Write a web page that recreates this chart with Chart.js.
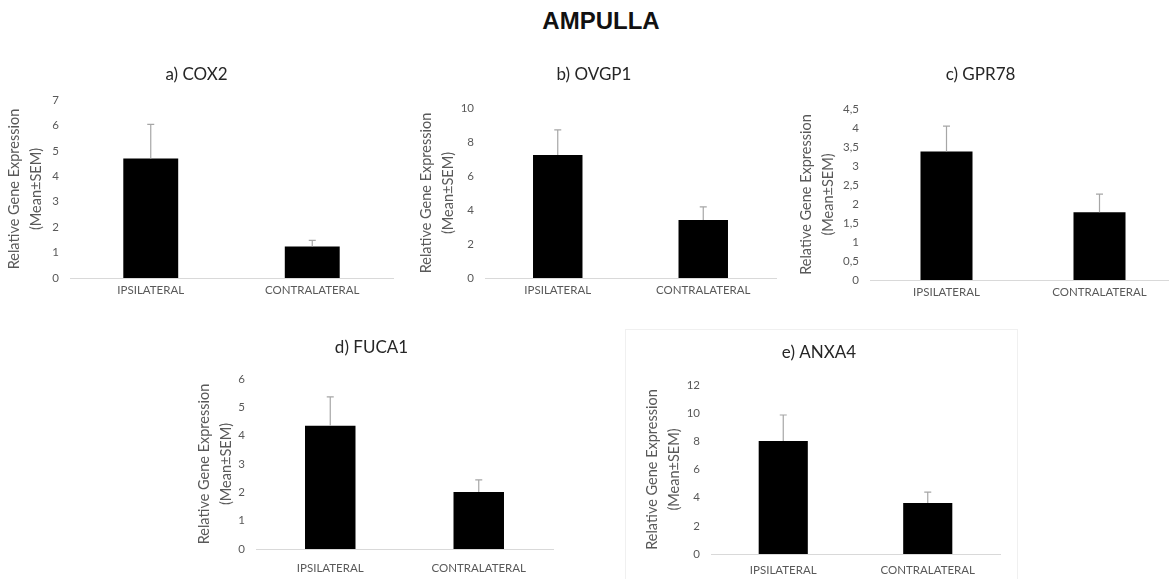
<!DOCTYPE html>
<html>
<head>
<meta charset="utf-8">
<script src="https://cdn.jsdelivr.net/npm/chart.js@4"></script>
<style>
  html, body { margin: 0; padding: 0; background: #fff; overflow: hidden; }
  body { width: 1169px; height: 579px; position: relative; }
  #mainTitle { position: absolute; left: 0; width: 1202px; top: 7px; text-align: center;
    font: bold 24px "Liberation Sans", Arial, sans-serif; color: #111; }
  canvas { position: absolute; }
  #boxE { position: absolute; left: 625px; top: 329px; width: 391px; height: 260px; border: 1px solid #f0f0f0; }
</style>
</head>
<body>
<div id="mainTitle">AMPULLA</div>
<div id="boxE"></div>
<canvas id="cA"></canvas>
<canvas id="cB"></canvas>
<canvas id="cC"></canvas>
<canvas id="cD"></canvas>
<canvas id="cE"></canvas>
<script>
// data
var categories = ['IPSILATERAL', 'CONTRALATERAL'];
var panelTitles = ['a) COX2', 'b) OVGP1', 'c) GPR78', 'd) FUCA1', 'e) ANXA4'];
var yAxisTitle = ['Relative Gene Expression', '(Mean±SEM)'];

var cox2Mean = [4.70, 1.24];
var cox2Sem = [1.34, 0.24];
var ovgp1Mean = [7.24, 3.41];
var ovgp1Sem = [1.47, 0.77];
var gpr78Mean = [3.38, 1.78];
var gpr78Sem = [0.67, 0.48];
var fuca1Mean = [4.35, 2.01];
var fuca1Sem = [1.02, 0.43];
var anxa4Mean = [8.02, 3.62];
var anxa4Sem = [1.85, 0.78];

var yMax = [7, 10, 4.5, 6, 12];
var yStep = [1, 2, 0.5, 1, 2];

// where each panel sits on the page
var panels = [
  { id: 'cA', left: 0,   top: 55,  w: 395, h: 253, yw: 70, ytp: 3,  tpt: 10, tpb: 15, xpad: 5,  mean: cox2Mean,  sem: cox2Sem },
  { id: 'cB', left: 412, top: 55,  w: 366, h: 253, yw: 73, ytp: 3,  tpt: 10, tpb: 23, xpad: 5,  mean: ovgp1Mean, sem: ovgp1Sem },
  { id: 'cC', left: 785, top: 55,  w: 393, h: 255, yw: 85, ytp: 10, tpt: 10, tpb: 24, xpad: 5,  mean: gpr78Mean, sem: gpr78Sem },
  { id: 'cD', left: 190, top: 325, w: 365, h: 254, yw: 66, ytp: 3,  tpt: 13, tpb: 21, xpad: 12, mean: fuca1Mean, sem: fuca1Sem },
  { id: 'cE', left: 638, top: 325, w: 364, h: 259, yw: 73, ytp: 3,  tpt: 18, tpb: 22, xpad: 9,  mean: anxa4Mean, sem: anxa4Sem }
];

var errorBars = {
  id: 'errorBars',
  afterDatasetsDraw: function(chart) {
    var ctx = chart.ctx;
    var y = chart.scales.y;
    var sem = chart.options.plugins.errorBars.sem;
    var ds = chart.data.datasets[0].data;
    chart.getDatasetMeta(0).data.forEach(function(bar, i) {
      var y0 = y.getPixelForValue(ds[i]);
      var y1 = y.getPixelForValue(ds[i] + sem[i]);
      ctx.save();
      ctx.strokeStyle = '#a6a6a6';
      ctx.lineWidth = 1.2;
      ctx.beginPath();
      ctx.moveTo(bar.x, y0);
      ctx.lineTo(bar.x, y1);
      ctx.moveTo(bar.x - 3.5, y1);
      ctx.lineTo(bar.x + 3.5, y1);
      ctx.stroke();
      ctx.restore();
    });
  }
};

panels.forEach(function(p, k) {
  var cv = document.getElementById(p.id);
  cv.width = p.w; cv.height = p.h;
  cv.style.left = p.left + 'px'; cv.style.top = p.top + 'px';
  new Chart(cv.getContext('2d'), {
    type: 'bar',
    data: {
      labels: categories,
      datasets: [{
        data: p.mean,
        backgroundColor: '#000',
        borderWidth: 0,
        barPercentage: 0.34,
        categoryPercentage: 1
      }]
    },
    plugins: [errorBars],
    options: {
      responsive: false,
      animation: false,
      layout: { padding: { left: 0, right: 2, top: 0, bottom: 0 } },
      plugins: {
        legend: { display: false },
        tooltip: { enabled: false },
        title: {
          display: true,
          text: panelTitles[k],
          color: '#262626',
          font: { family: 'Lato', size: 17, weight: 'normal', lineHeight: '20px' },
          padding: { top: p.tpt, bottom: p.tpb }
        },
        errorBars: { sem: p.sem }
      },
      scales: {
        x: {
          grid: { display: false, drawTicks: false },
          border: { display: true, color: '#d9d9d9', width: 1 },
          ticks: { color: '#595959', padding: p.xpad, font: { family: 'Lato', size: 11.5 } },
          afterFit: function(s) { s.height = 30; }
        },
        y: {
          min: 0,
          max: yMax[k],
          grid: { display: false, drawTicks: false },
          border: { display: false },
          ticks: {
            stepSize: yStep[k],
            color: '#595959',
            padding: 11,
            font: { family: 'Lato', size: 11.5 },
            callback: function(v) { return String(v).replace('.', ','); }
          },
          title: {
            display: true,
            text: yAxisTitle,
            color: '#595959',
            font: { family: 'Lato', size: 14.5, lineHeight: '22px' },
            padding: { top: p.ytp, bottom: 0 }
          },
          afterFit: function(s) { s.width = p.yw; }
        }
      }
    }
  });
});
</script>
</body>
</html>
